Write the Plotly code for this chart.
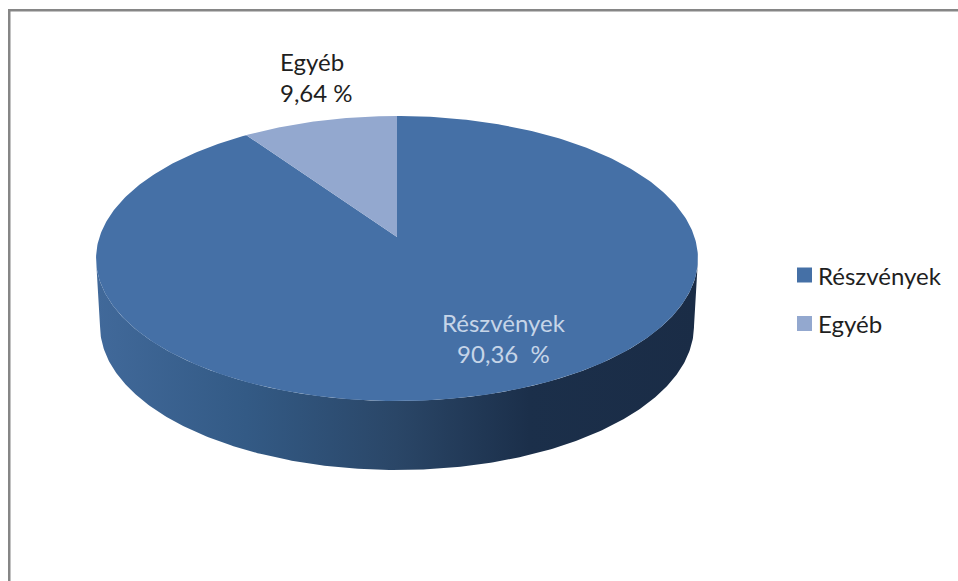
import numpy as np
import plotly.graph_objects as go

categories = ["Részvények", "Egyéb"]
values = [90.36, 9.64]
value_labels = ["90,36\u00a0\u00a0%", "9,64\u00a0%"]
colors = ["#4570A6", "#93A8CF"]

W, H = 958, 581
APEX = (397.0, 237.0)
A, B, K = 297.5, 139.3, 0.151
DEPTH_CX, DEPTH_CY, DEPTH_RX, DEPTH_RY = 397.0, 326.0, 297.0, 144.0
TOP_CY, TOP_RX, TOP_RY = 258.5, 301.0, 142.5


def project(theta):
    """Clockwise from 12 o'clock, on a tilted disc with perspective."""
    u, v = np.sin(theta), np.cos(theta)
    d = 1 + K * v
    return APEX[0] + A * u / d, APEX[1] - B * v / d


def slice_xy(start, end):
    t = np.linspace(start, end, 400)
    x, y = project(t)
    return np.r_[APEX[0], x, APEX[0]], np.r_[APEX[1], y, APEX[1]]


fig = go.Figure()

# side wall: lower half of the top ellipse joined to the lower half of the base ellipse
t = np.linspace(0, np.pi, 300)
top_x = 397.0 + TOP_RX * np.cos(t)
top_y = TOP_CY + TOP_RY * np.sin(t)
bot_x = DEPTH_CX - DEPTH_RX * np.cos(t)
bot_y = DEPTH_CY + DEPTH_RY * np.sin(t)
fig.add_trace(go.Scatter(
    x=np.r_[top_x, bot_x, top_x[0]], y=np.r_[top_y, bot_y, top_y[0]],
    mode="lines", line=dict(width=0), fill="toself", showlegend=False, hoverinfo="skip",
    fillgradient=dict(
        type="horizontal",
        start=96, stop=698,
        colorscale=[[0, "#41699A"], [0.25, "#335A85"], [0.5, "#2A4667"],
                    [0.72, "#1B2F4A"], [1, "#1A2C46"]],
    ),
))

# top face, sized from the values
shares = np.array(values) / sum(values) * 2 * np.pi
second_start = 2 * np.pi - shares[1]
x0, y0 = slice_xy(0, second_start)
x1, y1 = slice_xy(second_start, 2 * np.pi)
for xs, ys, c in [(x0, y0, colors[0]), (x1, y1, colors[1])]:
    fig.add_trace(go.Scatter(x=xs, y=ys, mode="lines", line=dict(width=0),
                             fill="toself", fillcolor=c, showlegend=False, hoverinfo="skip"))

FONT = "Lato, Carlito, sans-serif"
INK = "#1F1F1F"

# legend block: swatches and names
LEGEND_X, LEGEND_Y = [804.5, 804.5], [275, 323.5]
fig.add_trace(go.Scatter(x=LEGEND_X, y=LEGEND_Y, mode="markers", showlegend=False, hoverinfo="skip",
                         marker=dict(symbol="square", size=15, color=colors, line=dict(width=0))))
for name, ly in zip(categories, LEGEND_Y):
    fig.add_annotation(x=816, y=ly, text=name, showarrow=False, xanchor="left",
                       font=dict(family=FONT, size=24, color=INK))

fig.add_annotation(x=504, y=338, text=f"{categories[0]}<br>{value_labels[0]}", showarrow=False,
                   font=dict(family=FONT, size=24, color="#C6D5E8"), align="center")
fig.add_annotation(x=278, y=77, text=f"{categories[1]}<br>{value_labels[1]}", showarrow=False,
                   xanchor="left", font=dict(family=FONT, size=24, color=INK), align="left")

fig.update_layout(
    width=W, height=H, margin=dict(l=0, r=0, t=0, b=0), showlegend=False,
    paper_bgcolor="white", plot_bgcolor="white",
    xaxis=dict(range=[0, W], visible=False, fixedrange=True),
    yaxis=dict(range=[H, 0], visible=False, fixedrange=True),
    shapes=[
        dict(type="line", xref="x", yref="y", x0=9.25, x1=9.25, y0=9, y1=H, line=dict(color="#868686", width=2.5)),
        dict(type="line", xref="x", yref="y", x0=8, x1=W, y0=10.25, y1=10.25, line=dict(color="#868686", width=2.5)),
    ],
)
fig.write_html("out.html", post_script="document.body.style.margin='0';",
               config={"displayModeBar": False})
